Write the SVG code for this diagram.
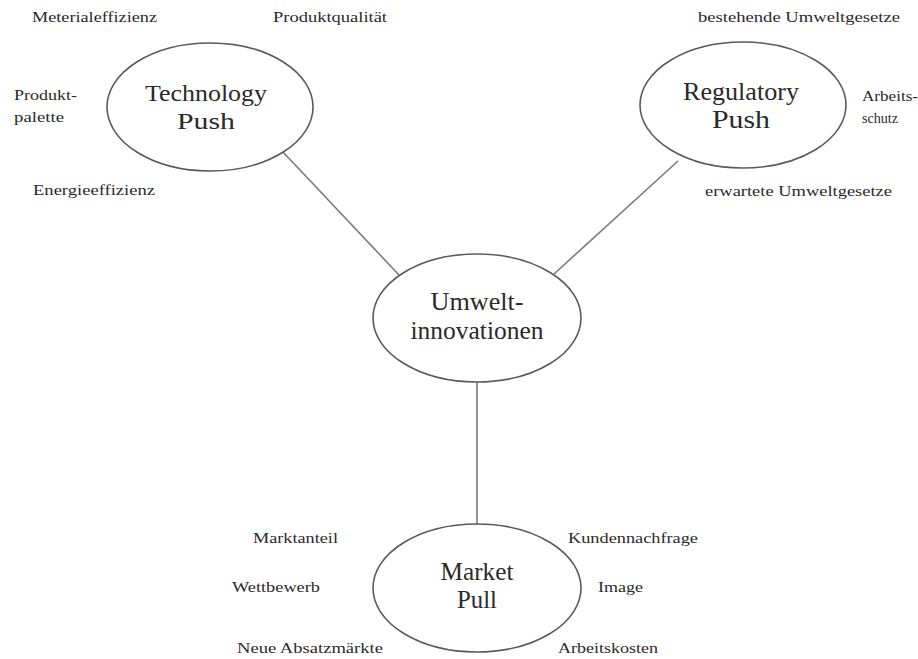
<svg xmlns="http://www.w3.org/2000/svg" width="918" height="659" viewBox="0 0 918 659">
  <style>
    .bg { fill: #ffffff; }
    .node ellipse { fill: #ffffff; stroke: #5a5a5a; stroke-width: 1.6; }
    .node text { font-family: "Liberation Serif", "DejaVu Serif", serif; font-size: 26px; fill: #2a2a2a; text-anchor: middle; }
    .edge { stroke: #7a7a7a; stroke-width: 1.6; fill: none; }
    .factor { font-family: "Liberation Serif", "DejaVu Serif", serif; font-size: 14px; fill: #2a2a2a; }
  </style>
  <rect class="bg" x="0" y="0" width="918" height="659"/>

  <!-- connectors between the drivers and the central node -->
  <g id="connectors">
    <line class="edge" x1="283" y1="152" x2="399" y2="275"/>
    <line class="edge" x1="678" y1="161" x2="554" y2="274"/>
    <line class="edge" x1="477" y1="382" x2="477" y2="524"/>
  </g>

  <g id="technology-push" class="node">
    <ellipse cx="210" cy="107" rx="103" ry="64"/>
    <text x="206" y="101" style="font-size:24px" textLength="122" lengthAdjust="spacingAndGlyphs">Technology</text>
    <text x="206" y="129" style="font-size:24px" textLength="58" lengthAdjust="spacingAndGlyphs">Push</text>
  </g>

  <g id="regulatory-push" class="node">
    <ellipse cx="743" cy="105" rx="103" ry="63"/>
    <text x="741" y="100" textLength="116" lengthAdjust="spacingAndGlyphs">Regulatory</text>
    <text x="741" y="128" textLength="58" lengthAdjust="spacingAndGlyphs">Push</text>
  </g>

  <g id="umweltinnovationen" class="node">
    <ellipse cx="477" cy="318" rx="104" ry="64"/>
    <text x="477" y="310" textLength="93" lengthAdjust="spacingAndGlyphs">Umwelt-</text>
    <text x="477" y="339" textLength="133" lengthAdjust="spacingAndGlyphs">innovationen</text>
  </g>

  <g id="market-pull" class="node">
    <ellipse cx="477" cy="588" rx="104" ry="64"/>
    <text x="477" y="580" textLength="73" lengthAdjust="spacingAndGlyphs">Market</text>
    <text x="477" y="608" textLength="40" lengthAdjust="spacingAndGlyphs">Pull</text>
  </g>

  <!-- factor labels around each driver -->
  <g id="technology-factors">
    <text class="factor" x="32" y="22" textLength="125" lengthAdjust="spacingAndGlyphs">Meterialeffizienz</text>
    <text class="factor" x="273" y="22" textLength="114" lengthAdjust="spacingAndGlyphs">Produktqualität</text>
    <text class="factor" x="14" y="100" textLength="63" lengthAdjust="spacingAndGlyphs">Produkt-</text>
    <text class="factor" x="14" y="122" textLength="50" lengthAdjust="spacingAndGlyphs">palette</text>
    <text class="factor" x="33" y="195" textLength="122" lengthAdjust="spacingAndGlyphs">Energieeffizienz</text>
  </g>

  <g id="regulatory-factors">
    <text class="factor" x="698" y="22" textLength="202" lengthAdjust="spacingAndGlyphs">bestehende Umweltgesetze</text>
    <text class="factor" x="862" y="101" textLength="56" lengthAdjust="spacingAndGlyphs">Arbeits-</text>
    <text class="factor" x="862" y="123" textLength="36" lengthAdjust="spacingAndGlyphs">schutz</text>
    <text class="factor" x="705" y="196" textLength="187" lengthAdjust="spacingAndGlyphs">erwartete Umweltgesetze</text>
  </g>

  <g id="market-factors">
    <text class="factor" x="253" y="543" textLength="85" lengthAdjust="spacingAndGlyphs">Marktanteil</text>
    <text class="factor" x="232" y="592" textLength="88" lengthAdjust="spacingAndGlyphs">Wettbewerb</text>
    <text class="factor" x="237" y="653" textLength="146" lengthAdjust="spacingAndGlyphs">Neue Absatzmärkte</text>
    <text class="factor" x="568" y="543" textLength="130" lengthAdjust="spacingAndGlyphs">Kundennachfrage</text>
    <text class="factor" x="598" y="592" textLength="45" lengthAdjust="spacingAndGlyphs">Image</text>
    <text class="factor" x="558" y="653" textLength="100" lengthAdjust="spacingAndGlyphs">Arbeitskosten</text>
  </g>
</svg>
